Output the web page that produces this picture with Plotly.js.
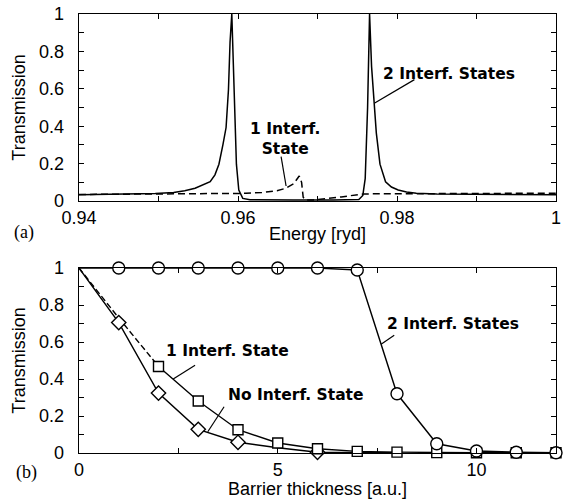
<!DOCTYPE html>
<html>
<head>
<meta charset="utf-8">
<script src="https://cdn.plot.ly/plotly-3.0.1.min.js"></script>
<style>html,body{margin:0;padding:0;background:#fff;}#chart{width:566px;height:499px;}</style>
</head>
<body>
<div id="chart"></div>
<script>
// ---- Panel (a): transmission vs energy ----
const solidE = [0.940, 0.945, 0.9496, 0.9519, 0.9533, 0.9546, 0.9556, 0.9565, 0.9571, 0.9576, 0.9581, 0.9585, 0.9588, 0.9590, 0.95922, 0.9594, 0.9596, 0.9598, 0.9601, 0.9606, 0.9615, 0.963, 0.967, 0.972, 0.9745, 0.9752, 0.9757, 0.9760, 0.9763, 0.97655, 0.9768, 0.9770, 0.9774, 0.97786, 0.97856, 0.9793, 0.98015, 0.9812, 0.98243, 0.985, 0.990, 0.995, 1.000];
const solidT = [0.034, 0.036, 0.040, 0.046, 0.055, 0.068, 0.085, 0.103, 0.14, 0.197, 0.30, 0.393, 0.595, 0.85, 1.0, 0.72, 0.40, 0.197, 0.059, 0.014, 0.007, 0.006, 0.006, 0.006, 0.006, 0.008, 0.03, 0.12, 0.5, 1.0, 0.72, 0.595, 0.363, 0.197, 0.103, 0.075, 0.059, 0.048, 0.041, 0.037, 0.035, 0.034, 0.033];
const dashE = [0.940, 0.950, 0.958, 0.961, 0.963, 0.9649, 0.966, 0.967, 0.9677, 0.9680, 0.9682, 0.9685, 0.9695, 0.971, 0.973, 0.9758, 0.980, 0.990, 1.000];
const dashT = [0.035, 0.037, 0.040, 0.041, 0.046, 0.055, 0.068, 0.092, 0.134, 0.10, 0.02, 0.005, 0.006, 0.012, 0.022, 0.038, 0.038, 0.040, 0.042];
const energyTicks = [0.94, 0.95, 0.96, 0.97, 0.98, 0.99, 1.0];
const energyTickText = ['0.94', '', '0.96', '', '0.98', '', '1'];

// ---- Panel (b): transmission vs barrier thickness ----
const thick = [0, 1, 2, 3, 4, 5, 6, 7, 8, 9, 10, 11, 12];
const twoStates = [1, 1, 1, 1, 1, 1, 1, 0.989, 0.32, 0.05, 0.011, 0.004, 0.001];
const twoStatesMarker = [0, 12, 12, 12, 12, 12, 12, 12, 12, 12, 12, 12, 12];
const oneStateDashX = [0, 1, 2];
const oneStateDashY = [1, 0.73, 0.468];
const oneStateX = [2, 3, 4, 5, 6, 7, 8, 9, 10, 11, 12];
const oneStateY = [0.468, 0.281, 0.126, 0.054, 0.023, 0.009, 0.005, 0.002, 0.001, 0.001, 0.001];
const noStateX = [0, 1, 2, 3, 4, 5, 6, 7, 8];
const noStateY = [1, 0.705, 0.324, 0.128, 0.058, 0.028, 0.004, 0.002, 0.001];
const noStateMarker = [0, 11, 11, 11, 11, 0, 11, 0, 0];
const yTicks = [0, 0.1, 0.2, 0.3, 0.4, 0.5, 0.6, 0.7, 0.8, 0.9, 1];
const yTickText = ['0', '', '0.2', '', '0.4', '', '0.6', '', '0.8', '', '1'];
const thickTicks = [0, 2.5, 5, 7.5, 10, 12];
const thickTickText = ['0', '', '5', '', '10', ''];

const FONT = 'Liberation Sans, Arial, sans-serif';
const BFONT = {family: 'DejaVu Sans, Liberation Sans, sans-serif', size: 15.5, color: '#000', weight: 'bold'};
const traces = [
  {x: solidE, y: solidT, xaxis: 'x', yaxis: 'y', mode: 'lines', line: {color: '#000', width: 1.5}},
  {x: dashE, y: dashT, xaxis: 'x', yaxis: 'y', mode: 'lines', line: {color: '#000', width: 1.5, dash: '7px,4px'}},
  {x: oneStateDashX, y: oneStateDashY, xaxis: 'x2', yaxis: 'y2', mode: 'lines', line: {color: '#000', width: 1.4, dash: '6px,3px'}},
  {x: noStateX, y: noStateY, xaxis: 'x2', yaxis: 'y2', mode: 'lines+markers', cliponaxis: false,
   line: {color: '#000', width: 1.4},
   marker: {symbol: 'diamond', size: noStateMarker, color: '#ffffff', opacity: 1, line: {color: '#000', width: 1.4}}},
  {x: oneStateX, y: oneStateY, xaxis: 'x2', yaxis: 'y2', mode: 'lines+markers', cliponaxis: false,
   line: {color: '#000', width: 1.4},
   marker: {symbol: 'square', size: 10, color: '#ffffff', opacity: 1, line: {color: '#000', width: 1.4}}},
  {x: thick, y: twoStates, xaxis: 'x2', yaxis: 'y2', mode: 'lines+markers', cliponaxis: false,
   line: {color: '#000', width: 1.4},
   marker: {symbol: 'circle', size: twoStatesMarker, color: '#ffffff', opacity: 1, line: {color: '#000', width: 1.4}}}
];

const axisCommon = {
  showgrid: false, zeroline: false, showline: true, linecolor: '#000', linewidth: 1.3,
  mirror: 'ticks', ticks: 'inside', ticklen: 5, tickcolor: '#000', tickwidth: 1,
  tickfont: {family: FONT, size: 18, color: '#000'}, tickmode: 'array'
};
const titleFont = {family: FONT, size: 18, color: '#000'};

const layout = {
  width: 566, height: 499,
  margin: {l: 79, r: 10, t: 14, b: 46},
  paper_bgcolor: '#fff', plot_bgcolor: '#fff',
  showlegend: false,
  xaxis: Object.assign({}, axisCommon, {domain: [0, 1], anchor: 'y', range: [0.94, 1.0],
    tickvals: energyTicks, ticktext: energyTickText,
    title: {text: 'Energy [ryd]', font: titleFont, standoff: 0}}),
  yaxis: Object.assign({}, axisCommon, {domain: [0.574, 1], anchor: 'x', range: [0, 1],
    tickvals: yTicks, ticktext: yTickText, ticklabelstandoff: 10,
    title: {text: 'Transmission', font: titleFont, standoff: 8}}),
  xaxis2: Object.assign({}, axisCommon, {domain: [0, 1], anchor: 'y2', range: [0, 12],
    tickvals: thickTicks, ticktext: thickTickText,
    title: {text: 'Barrier thickness [a.u.]', font: titleFont, standoff: 0}}),
  yaxis2: Object.assign({}, axisCommon, {domain: [0, 0.4214], anchor: 'x2', range: [0, 1],
    tickvals: yTicks, ticktext: yTickText, ticklabelstandoff: 10,
    title: {text: 'Transmission', font: titleFont, standoff: 8}}),
  annotations: [
    {xref: 'x', yref: 'y', x: 0.98648, y: 0.681, text: '2 Interf. States', showarrow: false, font: BFONT},
    {xref: 'x', yref: 'y', x: 0.96590, y: 0.33, text: '1 Interf.<br>State', showarrow: false, font: BFONT},
    {xref: 'x2', yref: 'y2', x: 9.41, y: 0.695, text: '2 Interf. States', showarrow: false, font: BFONT},
    {xref: 'x2', yref: 'y2', x: 3.74, y: 0.55, text: '1 Interf. State', showarrow: false, font: BFONT},
    {xref: 'x2', yref: 'y2', x: 5.47, y: 0.316, text: 'No Interf. State', showarrow: false, font: BFONT},
    {xref: 'paper', yref: 'paper', x: -0.1405, y: 0.503, text: '(a)', showarrow: false,
     font: {family: 'Liberation Serif, Times New Roman, serif', size: 18, color: '#000'}},
    {xref: 'paper', yref: 'paper', x: -0.136, y: -0.0729, text: '(b)', showarrow: false,
     font: {family: 'Liberation Serif, Times New Roman, serif', size: 18, color: '#000'}}
  ],
  shapes: [
    {type: 'line', xref: 'x', yref: 'y', x0: 0.98219, y0: 0.649, x1: 0.9772, y1: 0.524, line: {color: '#000', width: 1.2}},
    {type: 'line', xref: 'x', yref: 'y', x0: 0.96542, y0: 0.2375, x1: 0.96605, y1: 0.0804, line: {color: '#000', width: 1.2}},
    {type: 'line', xref: 'x2', yref: 'y2', x0: 7.93, y0: 0.636, x1: 7.6, y1: 0.588, line: {color: '#000', width: 1.2}},
    {type: 'line', xref: 'x2', yref: 'y2', x0: 2.92, y0: 0.474, x1: 2.37, y1: 0.40, line: {color: '#000', width: 1.2}},
    {type: 'line', xref: 'x2', yref: 'y2', x0: 3.65, y0: 0.25, x1: 3.24, y1: 0.115, line: {color: '#000', width: 1.2}}
  ]
};

Plotly.newPlot('chart', traces, layout, {staticPlot: true, displayModeBar: false});
</script>
</body>
</html>
